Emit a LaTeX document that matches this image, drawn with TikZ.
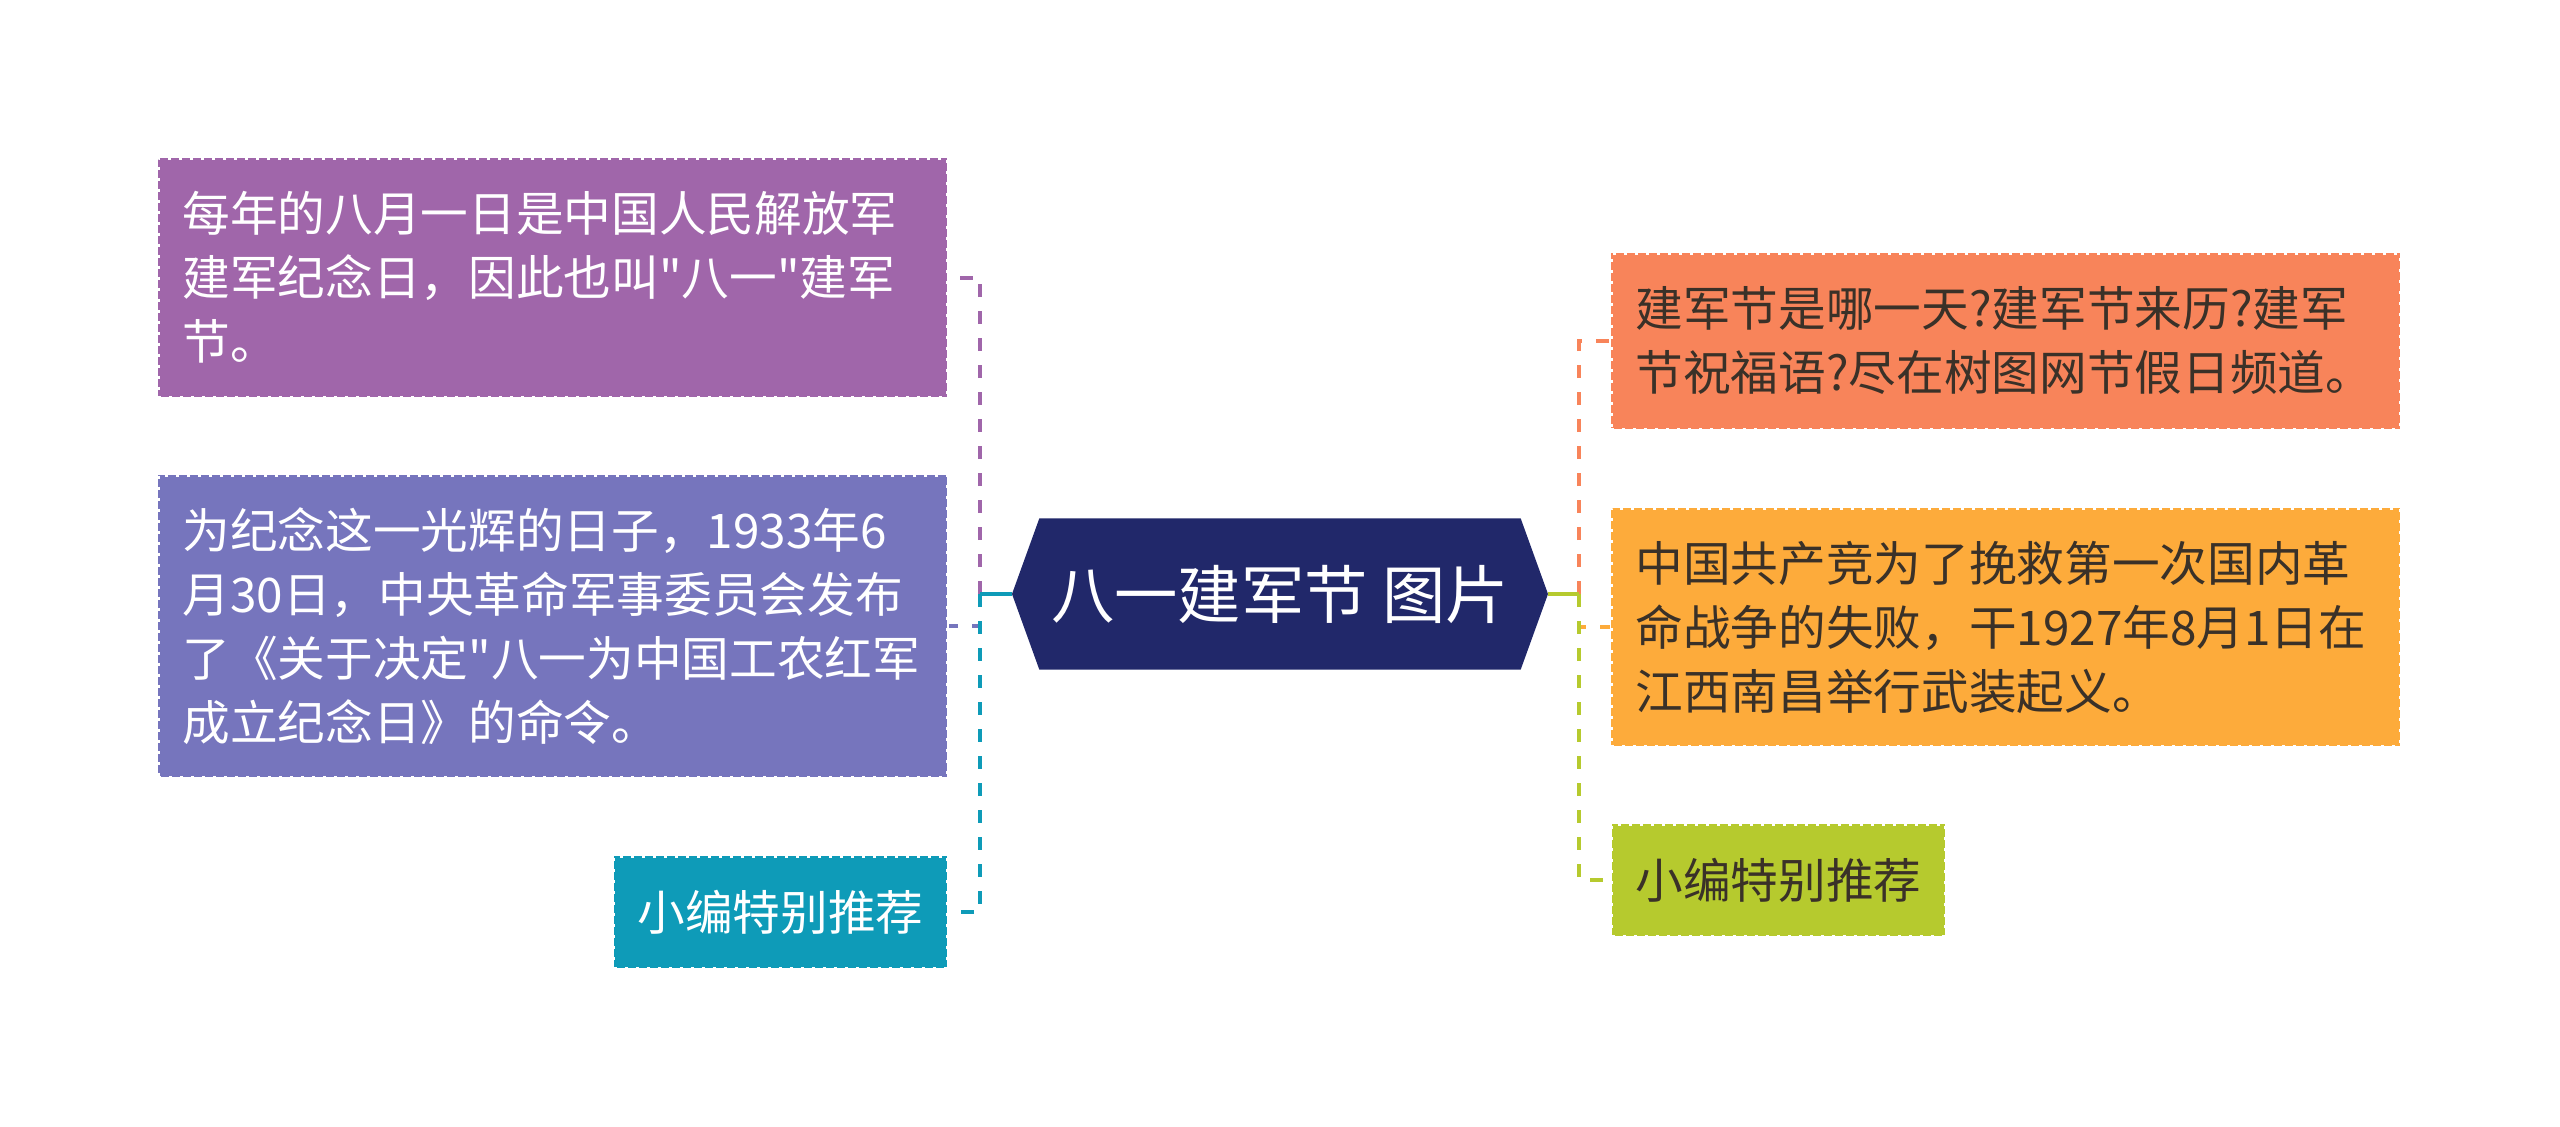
\documentclass[tikz,border=0pt]{standalone}
\usepackage{fontspec}
\setmainfont{Noto Sans CJK SC}[Ligatures=TeXOff]
\definecolor{cA}{HTML}{A066AA}
\definecolor{cB}{HTML}{7675BD}
\definecolor{cC}{HTML}{0E9BB8}
\definecolor{cHub}{HTML}{21286A}
\definecolor{cD}{HTML}{F8845A}
\definecolor{cE}{HTML}{FDAB3B}
\definecolor{cF}{HTML}{B6CA2E}
\definecolor{txtdark}{HTML}{3A3128}
\tikzset{
  box/.style={rectangle, inner sep=0pt, draw=white, line width=0.9pt, dash pattern=on 0.9pt off 2.4pt,
    font=\fontsize{14.3pt}{19.2pt}\selectfont},
  bigbox/.style={box, minimum width=236.7pt, text width=222pt, align=left},
  smallbox/.style={box, minimum width=100pt, minimum height=33.6pt, align=center},
  conn/.style={line width=1.2pt, dash pattern=on 3.9pt off 4.2pt},
  stem/.style={line width=1.2pt}
}
\begin{document}
\begin{tikzpicture}[x=0.3pt, y=-0.3pt]
\useasboundingbox (0,0) rectangle (2560,1127);
% hub
\node[rectangle, draw=none, minimum width=144pt, minimum height=45pt, inner sep=0pt] (hub) at (1280,594) {};
\coordinate (hubL) at (1012,594);
\coordinate (hubR) at (1548,594);
\fill[cHub] (hub.north west) -- (hub.north east) -- (hubR) -- (hub.south east)
  -- (hub.south west) -- (hubL) -- cycle;
\node[text=white, font=\fontsize{19pt}{22pt}\selectfont] (hubtext) at (hub.center) {八一建军节 图片};
% junctions
\coordinate (lj) at (980,594);
\coordinate (rj) at (1579,594);
% left boxes
\node[bigbox, fill=cA, minimum height=71.7pt, text=white] (b1) at (552.5,277.5)
  {每年的八月一日是中国人民解放军\\建军纪念日，因此也叫"八一"建军\\节。};
\node[bigbox, fill=cB, minimum height=90.6pt, text=white] (b2) at (552.5,626)
  {为纪念这一光辉的日子，1933年6\\月30日，中央革命军事委员会发布\\了《关于决定"八一为中国工农红军\\成立纪念日》的命令。};
\node[smallbox, fill=cC, text=white] (b3) at (780.5,912) {小编特别推荐};
% right boxes
\node[bigbox, fill=cD, minimum height=52.8pt, text=txtdark] (r1) at (2005.5,341)
  {建军节是哪一天?建军节来历?建军\\节祝福语?尽在树图网节假日频道。};
\node[bigbox, fill=cE, minimum height=71.4pt, text=txtdark] (r2) at (2005.5,627)
  {中国共产竞为了挽救第一次国内革\\命战争的失败，干1927年8月1日在\\江西南昌举行武装起义。};
\node[smallbox, fill=cF, text=txtdark] (r3) at (1778.5,880) {小编特别推荐};
% connectors left
\draw[conn, cA] (lj) |- (b1.east);
\draw[conn, cB] (lj) |- (b2.east);
\draw[conn, cC] (lj) |- (b3.east);
\draw[stem, cC] (lj) -- (hubL);
% connectors right
\draw[conn, cD] (rj) |- (r1.west);
\draw[conn, cE] (rj) |- (r2.west);
\draw[conn, cF] (rj) |- (r3.west);
\draw[stem, cF] (hubR) -- (rj);
\end{tikzpicture}
\end{document}
